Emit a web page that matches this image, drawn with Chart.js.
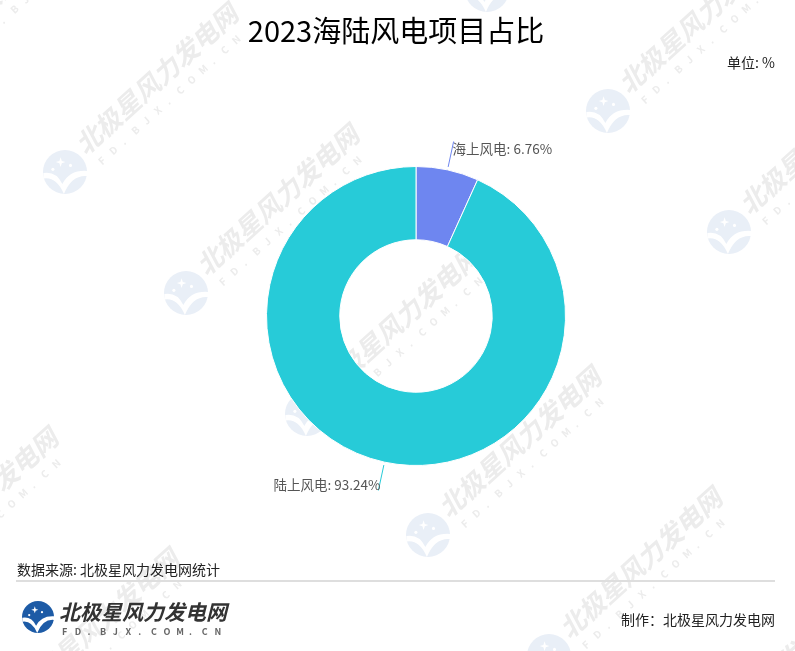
<!DOCTYPE html>
<html>
<head>
<meta charset="utf-8">
<script src="https://cdn.jsdelivr.net/npm/chart.js@4.4.0/dist/chart.umd.min.js"></script>
<style>
    html, body { margin: 0; padding: 0; background: #fff; }
    #wrap { width: 795px; height: 651px; position: relative; }
</style>
</head>
<body>
<div id="wrap"><canvas id="shareChart"></canvas></div>
<script>
const categories = ['海上风电', '陆上风电'];
const shares = [6.76, 93.24];
const sliceColors = ['#6e86f0', '#27cbd8'];

const FONT = '"Noto Sans CJK SC", "Noto Sans", sans-serif';

// small brand mark: circle with a white swoosh and stars
function drawLogo(ctx, x, y, r, color) {
    ctx.save();
    ctx.translate(x, y);
    ctx.fillStyle = color;
    ctx.beginPath();
    ctx.arc(0, 0, r, 0, Math.PI * 2);
    ctx.fill();
    ctx.fillStyle = '#fff';
    ctx.beginPath();
    ctx.moveTo(-r * 0.98, r * 0.05);
    ctx.quadraticCurveTo(-r * 0.4, -r * 0.05, -r * 0.12, r * 0.55);
    ctx.quadraticCurveTo(r * 0.2, -r * 0.1, r * 1.0, -r * 0.05);
    ctx.lineTo(r * 1.0, r * 0.18);
    ctx.quadraticCurveTo(r * 0.3, r * 0.12, -r * 0.05, r * 1.0);
    ctx.quadraticCurveTo(-r * 0.4, r * 0.2, -r * 0.98, r * 0.3);
    ctx.closePath();
    ctx.fill();
    // stars
    const s = r * 0.22, sx = -r * 0.2, sy = -r * 0.45;
    ctx.beginPath();
    ctx.moveTo(sx, sy - s);
    ctx.lineTo(sx + s * 0.25, sy - s * 0.25);
    ctx.lineTo(sx + s, sy);
    ctx.lineTo(sx + s * 0.25, sy + s * 0.25);
    ctx.lineTo(sx, sy + s);
    ctx.lineTo(sx - s * 0.25, sy + s * 0.25);
    ctx.lineTo(sx - s, sy);
    ctx.lineTo(sx - s * 0.25, sy - s * 0.25);
    ctx.closePath();
    ctx.fill();
    [[r * 0.25, -r * 0.3], [-r * 0.55, -r * 0.12]].forEach(p => {
        ctx.beginPath();
        ctx.arc(p[0], p[1], r * 0.07, 0, Math.PI * 2);
        ctx.fill();
    });
    ctx.restore();
}

function spacedText(ctx, str, x, y, step) {
    for (let i = 0; i < str.length; i++) {
        ctx.fillText(str[i], x + i * step, y);
    }
}

function drawWatermark(ctx, cx, cy) {
    drawLogo(ctx, cx, cy, 22, '#e9eff7');
    ctx.save();
    ctx.translate(cx, cy);
    ctx.rotate(-42 * Math.PI / 180);
    ctx.fillStyle = '#ececec';
    ctx.textBaseline = 'alphabetic';
    ctx.textAlign = 'left';
    ctx.font = 'italic bold 26px ' + FONT;
    ctx.fillText('北极星风力发电网', 26, 2);
    ctx.font = 'bold 10px ' + FONT;
    spacedText(ctx, 'FD.BJX.COM.CN', 32, 20, 15);
    ctx.restore();
}

const watermarkPlugin = {
    id: 'watermarks',
    beforeDraw(chart) {
        const ctx = chart.ctx;
        ctx.save();
        ctx.fillStyle = '#fff';
        ctx.fillRect(0, 0, chart.width, chart.height);
        const bases = [[65, 172], [608, 111], [-478, 233]];
        bases.forEach(b => {
            for (let k = -3; k <= 6; k++) {
                drawWatermark(ctx, b[0] + 121 * k, b[1] + 121 * k);
            }
        });
        ctx.restore();
    }
};

const labelPlugin = {
    id: 'sliceLabels',
    afterDatasetsDraw(chart) {
        const ctx = chart.ctx;
        const meta = chart.getDatasetMeta(0);
        ctx.save();
        ctx.font = '13.5px ' + FONT;
        ctx.textBaseline = 'middle';
        meta.data.forEach((arc, i) => {
            const mid = (arc.startAngle + arc.endAngle) / 2;
            const r1 = arc.outerRadius + 3, r2 = arc.outerRadius + 29;
            const x1 = arc.x + Math.cos(mid) * r1, y1 = arc.y + Math.sin(mid) * r1;
            const x2 = arc.x + Math.cos(mid) * r2, y2 = arc.y + Math.sin(mid) * r2;
            ctx.strokeStyle = sliceColors[i];
            ctx.lineWidth = 1;
            ctx.beginPath();
            ctx.moveTo(x1, y1);
            ctx.lineTo(x2, y2);
            ctx.stroke();
            const right = Math.cos(mid) >= 0;
            const up = Math.sin(mid) < 0;
            ctx.fillStyle = '#555';
            ctx.textAlign = right ? 'left' : 'right';
            ctx.fillText(categories[i] + ': ' + shares[i].toFixed(2) + '%', x2 + (right ? -1 : 2), y2 + (up ? 7 : -6));
        });
        ctx.restore();
    },
    afterDraw(chart) {
        const ctx = chart.ctx;
        ctx.save();
        ctx.fillStyle = '#000';
        ctx.textBaseline = 'middle';
        ctx.textAlign = 'center';
        ctx.font = '29px ' + FONT;
        ctx.fillText('2023海陆风电项目占比', 396, 31);

        ctx.textAlign = 'right';
        ctx.font = '14px ' + FONT;
        ctx.fillStyle = '#222';
        ctx.fillText('单位: %', 775, 63);

        ctx.textAlign = 'left';
        ctx.fillText('数据来源: 北极星风力发电网统计', 17, 570);

        ctx.strokeStyle = '#dedede';
        ctx.lineWidth = 2;
        ctx.beginPath();
        ctx.moveTo(16, 581);
        ctx.lineTo(775, 581);
        ctx.stroke();

        ctx.textAlign = 'right';
        ctx.fillText('制作：北极星风力发电网', 775, 620);

        // footer brand
        drawLogo(ctx, 38, 617, 16, '#1d5ba6');
        ctx.textAlign = 'left';
        ctx.fillStyle = '#333';
        ctx.font = 'italic bold 21px ' + FONT;
        ctx.fillText('北极星风力发电网', 59, 612);
        ctx.fillStyle = '#666';
        ctx.font = 'bold 9px ' + FONT;
        spacedText(ctx, 'FD.BJX.COM.CN', 62, 632, 12.7);
        ctx.restore();
    }
};

const ctx = document.getElementById('shareChart').getContext('2d');
const shareChart = new Chart(ctx, {
    type: 'doughnut',
    data: {
        labels: categories,
        datasets: [{
            data: shares,
            backgroundColor: sliceColors,
            borderColor: '#fff',
            borderWidth: 1
        }]
    },
    options: {
        responsive: true,
        maintainAspectRatio: false,
        animation: false,
        cutout: '51%',
        layout: {
            padding: { left: 266, right: 229, top: 166, bottom: 185 }
        },
        plugins: {
            legend: { display: false },
            tooltip: { enabled: false }
        }
    },
    plugins: [watermarkPlugin, labelPlugin]
});
</script>
</body>
</html>
